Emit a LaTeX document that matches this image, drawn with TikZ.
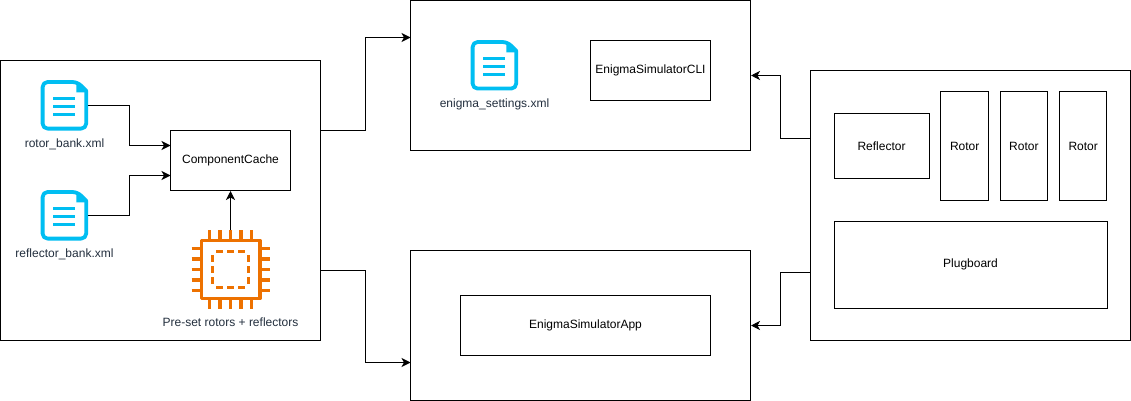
\documentclass[tikz,border=0pt]{standalone}
\usepackage{fontspec}
\setmainfont{Liberation Sans}
\usetikzlibrary{arrows.meta}
\definecolor{fileblue}{HTML}{00BEF2}
\definecolor{chiporange}{HTML}{ED7100}
\definecolor{labelgrey}{HTML}{232F3E}
\tikzset{
  box/.style={draw=black,line width=1pt,fill=white,inner sep=0pt,font=\fontsize{12}{14}\selectfont,text=black},
  label text/.style={inner sep=0pt,font=\fontsize{12}{14}\selectfont,text=labelgrey},
  conn/.style={draw=black,line width=1pt,-{Stealth[length=9pt,width=9pt,inset=2.5pt]}},
  iconbox/.style={minimum width=47pt,minimum height=50pt,inner sep=0pt,outer sep=0pt},
  pics/fileicon/.style={code={
    \draw[fileblue,line width=3.8pt,line join=round,fill=white]
      (-21.8,-16) [rounded corners=5pt] -- (-21.8,-23.3) -- (13,-23.3) [sharp corners] -- (21.8,-14.5) [rounded corners=5pt] -- (21.8,23.3) -- (-21.8,23.3) [sharp corners] -- cycle;
    \fill[fileblue] (12,-24) -- (23,-13) -- (12,-13) -- cycle;
    \foreach \yy in {-7,1,9}{
      \draw[fileblue,line width=3.4pt] (-11,\yy) -- (11,\yy);
    }
  }},
  pics/chipicon/.style={code={
    \draw[chiporange,line width=3.4pt,fill=white,line join=round] (-29.3,-29.2) rectangle (29.3,29.2);
    \foreach \pp in {-21.2,-10.6,0,10.6,21.2}{
      \draw[chiporange,line width=3.4pt] (\pp,-39.5) -- (\pp,-29.2);
      \draw[chiporange,line width=3.4pt] (\pp,29.2) -- (\pp,39.5);
      \draw[chiporange,line width=3.4pt] (-39,\pp) -- (-29.3,\pp);
      \draw[chiporange,line width=3.4pt] (29.3,\pp) -- (39,\pp);
    }
    \foreach \pp in {-11,0,11}{
      \draw[chiporange,line width=3pt] (\pp-3.5,-18) -- (\pp+3.5,-18);
      \draw[chiporange,line width=3pt] (\pp-3.5,18) -- (\pp+3.5,18);
      \draw[chiporange,line width=3pt] (-18,\pp-3.5) -- (-18,\pp+3.5);
      \draw[chiporange,line width=3pt] (18,\pp-3.5) -- (18,\pp+3.5);
    }
  }}
}
\begin{document}
\begin{tikzpicture}[x=1pt,y=-1pt]
\useasboundingbox (0,0) rectangle (1131,401);
% containers
\node[box,minimum width=320pt,minimum height=280pt] (leftbox) at (160.5,200.5) {};
\node[box,minimum width=340pt,minimum height=150pt] (topbox) at (580.5,75.5) {};
\node[box,minimum width=340pt,minimum height=150pt] (botbox) at (580.5,325.5) {};
\node[box,minimum width=320pt,minimum height=270pt] (rightbox) at (970.5,205.5) {};
% inner boxes
\node[box,minimum width=120pt,minimum height=60pt] (cache) at (230.5,160.5) {ComponentCache};
\node[box,minimum width=120pt,minimum height=60pt] (cli) at (650.5,70.5) {EnigmaSimulatorCLI};
\node[box,minimum width=250pt,minimum height=60pt] (app) at (585.5,325.5) {EnigmaSimulatorApp};
\node[box,minimum width=95pt,minimum height=65pt] (reflector) at (881.5,145.8) {Reflector};
\node[box,minimum width=47.5pt,minimum height=108pt] (rotora) at (964.7,146) {Rotor};
\node[box,minimum width=47.5pt,minimum height=108pt] (rotorb) at (1023.9,146) {Rotor};
\node[box,minimum width=47.5pt,minimum height=108pt] (rotorc) at (1083.2,146) {Rotor};
\node[box,minimum width=273pt,minimum height=86.5pt] (plugboard) at (970.5,264.8) {Plugboard};
% icons
\node[iconbox] (rotorfile) at (64.4,105.3) {};
\pic at (rotorfile.center) {fileicon};
\node[iconbox] (reflfile) at (64.4,215.3) {};
\pic at (reflfile.center) {fileicon};
\node[iconbox] (settingsfile) at (494.4,65.3) {};
\pic at (settingsfile.center) {fileicon};
\node[minimum width=78pt,minimum height=79pt,inner sep=0pt,outer sep=0pt] (chip) at (230.5,269.5) {};
\pic at (chip.center) {chipicon};
% icon labels
\node[label text] (rotorlabel) at (64.5,144) {rotor\_bank.xml};
\node[label text] (refllabel) at (64.5,254) {reflector\_bank.xml};
\node[label text] (chiplabel) at (230.5,322) {Pre-set rotors + reflectors};
\node[label text] (settingslabel) at (494.5,104) {enigma\_settings.xml};
% connector ends
\coordinate (cacheina) at (170.5,145.5);
\coordinate (cacheinb) at (170.5,175.5);
\coordinate (leftouta) at (320.5,130.5);
\coordinate (leftoutb) at (320.5,270.5);
\coordinate (topin) at (410.5,37.5);
\coordinate (botin) at (410.5,362.5);
\coordinate (rightouta) at (810.5,138.5);
\coordinate (rightoutb) at (810.5,272.5);
% connectors
\draw[conn] (rotorfile.east) -- (129.5,105.3) -- (129.5,145.5) -- (cacheina);
\draw[conn] (reflfile.east) -- (129.5,215.3) -- (129.5,175.5) -- (cacheinb);
\draw[conn] (chip.north) -- (cache.south);
\draw[conn] (leftouta) -- (365.5,130.5) -- (365.5,37.5) -- (topin);
\draw[conn] (leftoutb) -- (365.5,270.5) -- (365.5,362.5) -- (botin);
\draw[conn] (rightouta) -- (780.5,138.5) -- (780.5,75.5) -- (topbox.east);
\draw[conn] (rightoutb) -- (780.5,272.5) -- (780.5,325.5) -- (botbox.east);
\end{tikzpicture}
\end{document}
